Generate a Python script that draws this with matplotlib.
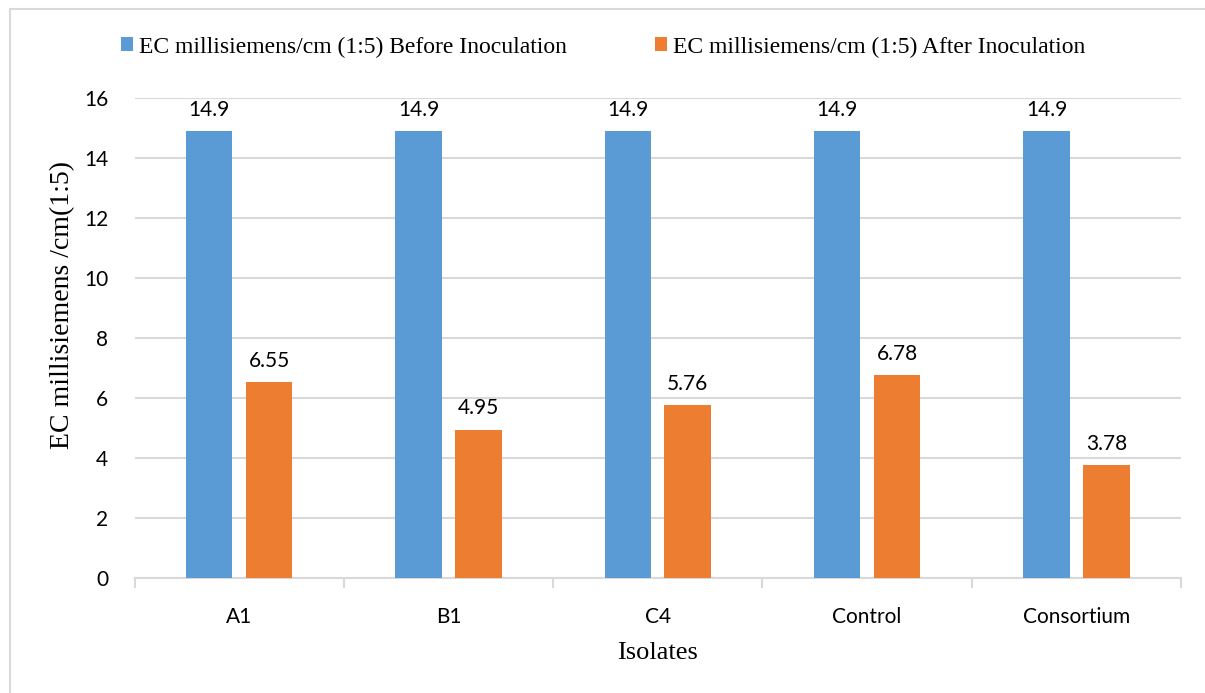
import matplotlib.pyplot as plt
import numpy as np
from matplotlib.patches import Rectangle

# Data
isolates = ["A1", "B1", "C4", "Control", "Consortium"]
ec_before = [14.9, 14.9, 14.9, 14.9, 14.9]
ec_after = [6.55, 4.95, 5.76, 6.78, 3.78]
before_label = "EC millisiemens/cm (1:5) Before Inoculation"
after_label = "EC millisiemens/cm (1:5) After Inoculation"

blue = "#5B9BD5"
orange = "#ED7D31"
grey = "#D9D9D9"
serif = "Liberation Serif"
sans = "Lato"

fig = plt.figure(figsize=(12.05, 6.93), dpi=100)
ax = fig.add_axes([134.5/1205, 115/693, 1046.5/1205, 479.7/693])

# outer chart frame (only top and left edges are inside the picture)
fig.patches.append(Rectangle((10/1205, -0.5), 2, 0.5 + (693-8.5)/693,
	transform=fig.transFigure, fill=False, edgecolor=grey, linewidth=1.5))

x = np.arange(len(isolates))
w = 0.222
off = 0.143
b1 = ax.bar(x - off, ec_before, w, color=blue, label=before_label, zorder=3)
b2 = ax.bar(x + off, ec_after, w, color=orange, label=after_label, zorder=3)

for bars, vals in [(b1, ec_before), (b2, ec_after)]:
	for r, v in zip(bars, vals):
		ax.annotate(f"{v:g}", (r.get_x() + r.get_width()/2, v), xytext=(0, 8),
			textcoords="offset points", ha="center", va="bottom",
			fontsize=15, family=sans)

ax.set_xlim(-0.5, len(isolates) - 0.5)
ax.set_ylim(0, 16)
ax.set_yticks(range(0, 17, 2))
ax.yaxis.grid(True, color=grey, linewidth=1.5, zorder=0)
ax.tick_params(axis="y", length=0, pad=19, labelsize=15)
ax.set_xticks(x)
ax.set_xticklabels(isolates)
ax.tick_params(axis="x", which="major", length=0, pad=21, labelsize=15)
ax.set_xticks(np.arange(-0.5, len(isolates)), minor=True)
ax.tick_params(axis="x", which="minor", length=7, width=1.5, color=grey)
for lab in ax.get_xticklabels() + ax.get_yticklabels():
	lab.set_family(sans)

for s in ["top", "right", "left"]:
	ax.spines[s].set_visible(False)
ax.spines["bottom"].set_color(grey)
ax.spines["bottom"].set_linewidth(1.5)

ax.set_xlabel("Isolates", family=serif, fontsize=19, labelpad=11)
ax.set_ylabel("EC millisiemens /cm(1:5)", family=serif, fontsize=20)
ax.yaxis.set_label_coords(-0.057, 0.569)

fig.legend(handles=[b1, b2], loc="center left", bbox_to_anchor=(109/1205, 1 - 47/693),
	ncol=2, frameon=False, prop={"family": serif, "size": 17}, borderpad=0,
	handlelength=0.5, handleheight=0.5, handletextpad=0.25, columnspacing=3.75)

plt.savefig("out.png", dpi=100)
